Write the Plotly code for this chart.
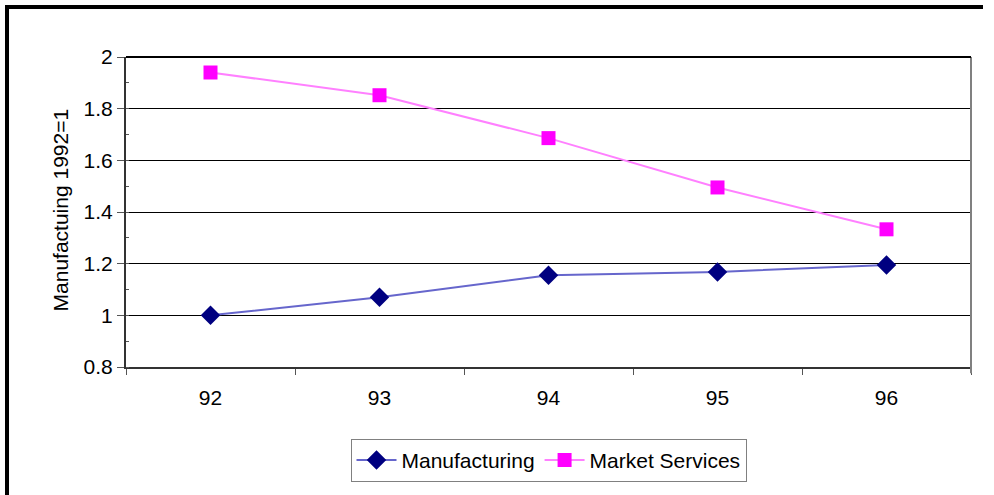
import plotly.graph_objects as go

years = ["92", "93", "94", "95", "96"]
manufacturing = [1.0, 1.07, 1.155, 1.168, 1.195]
market_services = [1.94, 1.852, 1.686, 1.495, 1.333]
y_ticks = [0.8, 1.0, 1.2, 1.4, 1.6, 1.8, 2.0]
y_tick_text = ["0.8", "1", "1.2", "1.4", "1.6", "1.8", "2"]

FONT = "Liberation Sans, Arial, sans-serif"
FS = 21
xpos = list(range(len(years)))

fig = go.Figure()
fig.add_trace(go.Scatter(
    x=xpos, y=manufacturing, name="Manufacturing", mode="lines+markers",
    line=dict(color="#6666cc", width=2),
    marker=dict(symbol="diamond", size=15, color="#000080"),
))
fig.add_trace(go.Scatter(
    x=xpos, y=market_services, name="Market Services", mode="lines+markers",
    line=dict(color="#ff80ff", width=2),
    marker=dict(symbol="square", size=14, color="#ff00ff"),
))

fig.update_layout(
    width=994, height=495,
    margin=dict(l=126, r=23, t=57, b=128),
    paper_bgcolor="white", plot_bgcolor="white",
    font=dict(family=FONT, size=FS, color="black"),
    showlegend=True,
    legend=dict(
        orientation="h", x=0.5, xanchor="center", y=-0.232, yanchor="top",
        bordercolor="#808080", borderwidth=1, bgcolor="white",
        font=dict(family=FONT, size=FS, color="black"),
        itemwidth=40, tracegroupgap=0,
    ),
    xaxis=dict(
        range=[-0.5, len(years) - 0.5],
        tickvals=xpos, ticktext=years, ticks="",
        showgrid=False, zeroline=False,
        showline=True, linecolor="#333333", linewidth=2,
        ticklabelstandoff=11,
        minor=dict(tickvals=[i - 0.5 for i in range(len(years) + 1)],
                   ticks="outside", ticklen=6, tickcolor="#555555", tickwidth=1,
                   showgrid=False),
        fixedrange=True,
    ),
    yaxis=dict(
        range=[0.8, 2.0],
        tickvals=y_ticks, ticktext=y_tick_text,
        ticks="outside", ticklen=7, tickcolor="#555555", tickwidth=1,
        showgrid=True, gridcolor="black", gridwidth=1,
        zeroline=False,
        showline=True, linecolor="#333333", linewidth=2,
        minor=dict(dtick=0.1, tick0=0.8, ticks="inside", ticklen=3,
                   tickcolor="#555555", showgrid=False),
        fixedrange=True,
    ),
    annotations=[dict(
        text="Manufactuing 1992=1", xref="paper", yref="paper",
        x=(60 - 126) / 845, y=0.505, xanchor="center", yanchor="middle",
        textangle=-90, showarrow=False,
        font=dict(family=FONT, size=FS, color="black"),
    )],
    shapes=[
        # right border of plot area
        dict(type="line", xref="paper", yref="paper", x0=1, x1=1, y0=-0.02, y1=1,
             line=dict(color="#808080", width=2)),
        # top gridline emphasis
        dict(type="line", xref="paper", yref="paper", x0=0, x1=1, y0=1, y1=1,
             line=dict(color="black", width=2)),
        # outer chart border (left and top)
        dict(type="line", xref="paper", yref="paper",
             x0=(7 - 126) / 845, x1=(7 - 126) / 845, y0=(367 - 500) / 310, y1=(367 - 5) / 310,
             line=dict(color="black", width=4)),
        dict(type="line", xref="paper", yref="paper",
             x0=(5 - 126) / 845, x1=(983 - 126) / 845, y0=(367 - 7) / 310, y1=(367 - 7) / 310,
             line=dict(color="black", width=4)),
    ],
)

fig.write_html("out.html")
